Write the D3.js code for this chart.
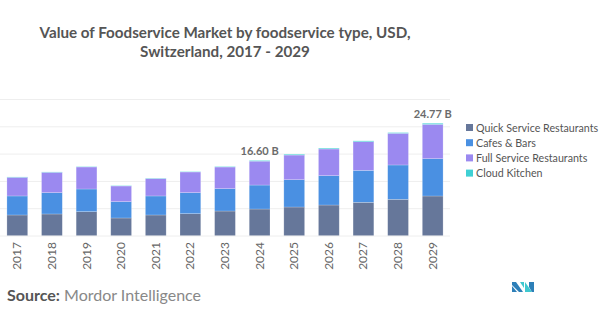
<html><head>
<style>
  body { margin: 0; background: #fff; font-family: Lato, "Open Sans", sans-serif; }
  svg { display: block; }
</style>
</head><body>
<div id="chart"></div>
<script src="https://cdnjs.cloudflare.com/ajax/libs/d3/7.8.5/d3.min.js"></script>
<script>
const years = ["2017","2018","2019","2020","2021","2022","2023","2024","2025","2026","2027","2028","2029"];
const seriesNames = ["Quick Service Restaurants","Cafes & Bars","Full Service Restaurants","Cloud Kitchen"];
const quickService = [4.62, 4.84, 5.35, 3.96, 4.62, 4.91, 5.49, 5.93, 6.37, 6.81, 7.40, 8.06, 8.79];
const cafesBars    = [4.18, 4.69, 4.98, 3.59, 4.18, 4.62, 4.91, 5.27, 6.00, 6.45, 7.03, 7.55, 8.20];
const fullService  = [4.10, 4.47, 4.84, 3.44, 3.81, 4.54, 4.76, 5.25, 5.42, 5.86, 6.30, 6.96, 7.55];
const cloudKitchen = [0.08, 0.08, 0.08, 0.08, 0.08, 0.08, 0.10, 0.15, 0.18, 0.18, 0.18, 0.15, 0.23];
const labelled = {"2024": "16.60 B", "2029": "24.77 B"};
const gridTicks = [6, 12, 18, 24, 30];
const colors = ["#66779a", "#4a90e2", "#9b89f0", "#3fd0d4"];

const width = 607, height = 316;
const svg = d3.select("#chart").append("svg").attr("width", width).attr("height", height);

// title
const title = svg.append("text").attr("x", 225).attr("text-anchor", "middle")
  .style("font-size", "15.2px").style("font-weight", "bold").style("fill", "#555");
title.append("tspan").attr("x", 225).attr("y", 38).text("Value of Foodservice Market by foodservice type, USD,");
title.append("tspan").attr("x", 225).attr("y", 57).text("Switzerland, 2017 - 2029");

const x = d3.scaleBand().domain(years).range([0, 450]).paddingInner(0.4).paddingOuter(0.2);
const y = d3.scaleLinear().domain([0, 30]).range([236, 99.5]);

// grid
svg.append("g").selectAll("line").data(gridTicks).enter().append("line")
  .attr("x1", 0).attr("x2", 450)
  .attr("y1", d => y(d)).attr("y2", d => y(d))
  .style("stroke", "#eee").style("stroke-width", 1);

const table = years.map((yr, i) => ({
  year: yr,
  "Quick Service Restaurants": quickService[i],
  "Cafes & Bars": cafesBars[i],
  "Full Service Restaurants": fullService[i],
  "Cloud Kitchen": cloudKitchen[i]
}));
const stacked = d3.stack().keys(seriesNames)(table);

svg.append("g").selectAll("g").data(stacked).enter().append("g")
  .style("fill", (d, i) => colors[i])
  .selectAll("rect").data(d => d).enter().append("rect")
  .attr("x", d => x(d.data.year))
  .attr("width", x.bandwidth())
  .attr("y", d => y(d[1]))
  .attr("height", d => y(d[0]) - y(d[1]))
  .style("stroke", "rgba(255,255,255,0.35)").style("stroke-width", 0.6);

// baseline
svg.append("line").attr("x1", 0).attr("x2", 450).attr("y1", y(0)).attr("y2", y(0))
  .style("stroke", "#eee");

// value labels
const totals = table.map(d => d3.sum(seriesNames, k => d[k]));
svg.append("g").selectAll("text").data(years.filter(yr => labelled[yr])).enter().append("text")
  .attr("x", d => x(d) + x.bandwidth() / 2)
  .attr("y", d => y(totals[years.indexOf(d)]) - 5)
  .attr("text-anchor", "middle")
  .style("font-size", "11px").style("fill", "#6b6b6b").style("font-weight", "bold")
  .text(d => labelled[d]);

// x axis labels
svg.append("g").selectAll("text").data(years).enter().append("text")
  .attr("transform", d => `translate(${x(d) + x.bandwidth() / 2 + 4},242) rotate(-90)`)
  .attr("text-anchor", "end")
  .style("font-size", "12px").style("fill", "#666")
  .text(d => d);

// legend
const legend = svg.append("g").selectAll("g").data(seriesNames).enter().append("g")
  .attr("transform", (d, i) => `translate(466,${124 + i * 15.2})`);
legend.append("rect").attr("width", 7).attr("height", 7).style("fill", (d, i) => colors[i]);
legend.append("text").attr("x", 10).attr("y", 7.5)
  .style("font-size", "10.7px").style("fill", "#555").text(d => d);

// source
const src = svg.append("text").attr("x", 7).attr("y", 301).style("font-size", "16px");
src.append("tspan").style("fill", "#555").style("font-weight", "bold").text("Source:");
src.append("tspan").style("fill", "#888").text(" Mordor Intelligence");

// logo
const logo = svg.append("g").attr("transform", "translate(512,282)");
logo.append("path").attr("d", "M0,0 L4,0 L11,10 L7,10 L0,3 Z").style("fill", "#2d7fb8");
logo.append("path").attr("d", "M0,4 L5,10 L0,10 Z").style("fill", "#2d7fb8");
logo.append("path").attr("d", "M8,0 L12,0 L12,6 Z").style("fill", "#3fc8cf");
logo.append("path").attr("d", "M13,0 L20,10 L13,10 Z").style("fill", "#3fc8cf");
logo.append("path").attr("d", "M17,0 L22,0 L22,10 L20,10 L17,5 Z").style("fill", "#2d7fb8");
</script>
</body></html>
